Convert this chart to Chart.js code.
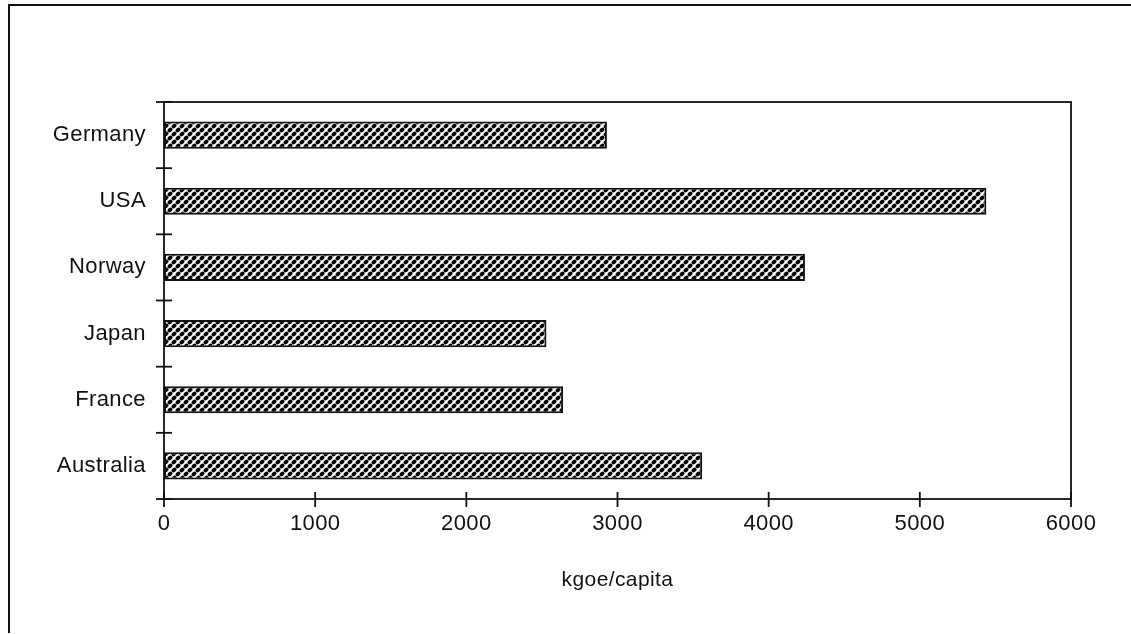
<!DOCTYPE html>
<html>
<head>
<meta charset="utf-8">
<script src="https://cdn.jsdelivr.net/npm/chart.js@4.4.1/dist/chart.umd.min.js"></script>
<style>
  html, body { margin: 0; padding: 0; background: #fff; }
  #wrap { position: relative; width: 1131px; height: 634px; }
</style>
</head>
<body>
<div id="wrap"><canvas id="c" width="1131" height="634"></canvas></div>
<script>
// Energy use per capita by country
const countries = ['Germany', 'USA', 'Norway', 'Japan', 'France', 'Australia'];
const kgoePerCapita = [2930, 5440, 4240, 2530, 2640, 3560];
const xTicks = [0, 1000, 2000, 3000, 4000, 5000, 6000];
const xTitle = 'kgoe/capita';

// Dotted halftone fill for the bars
function dotPattern() {
  const s = 8;
  const t = document.createElement('canvas');
  t.width = s; t.height = s;
  const g = t.getContext('2d');
  g.fillStyle = '#fff';
  g.fillRect(0, 0, s, s);
  g.fillStyle = '#000';
  const dot = (x, y) => {
    g.beginPath();
    g.ellipse(x, y, 2.7, 2.0, -0.7, 0, Math.PI * 2);
    g.fill();
  };
  const pts = [[2, 2], [6, 6]];
  pts.forEach(([x, y]) => {
    for (let dx = -s; dx <= s; dx += s)
      for (let dy = -s; dy <= s; dy += s) dot(x + dx, y + dy);
  });
  const ctx = document.getElementById('c').getContext('2d');
  return ctx.createPattern(t, 'repeat');
}

// Outer frame, plot box and crossing tick marks
const framePlugin = {
  id: 'frame',
  beforeDraw(chart) {
    chart.ctx.letterSpacing = '0.4px';
  },
  afterDraw(chart) {
    const { ctx, chartArea: a, scales } = chart;
    ctx.save();
    ctx.strokeStyle = '#111';
    ctx.lineWidth = 2;
    ctx.beginPath();
    ctx.moveTo(9, 633); ctx.lineTo(9, 5); ctx.lineTo(1131, 5);
    ctx.stroke();
    ctx.lineWidth = 1.8;
    ctx.strokeRect(a.left, a.top, a.right - a.left, a.bottom - a.top);
    // category boundary ticks on the value axis side
    const y = scales.y;
    const n = countries.length;
    for (let i = 0; i <= n; i++) {
      const py = y.getPixelForValue(i - 0.5);
      ctx.beginPath();
      ctx.moveTo(a.left - 8, py); ctx.lineTo(a.left + 8, py);
      ctx.stroke();
    }
    const x = scales.x;
    xTicks.forEach(v => {
      const px = x.getPixelForValue(v);
      ctx.beginPath();
      ctx.moveTo(px, a.bottom - 7); ctx.lineTo(px, a.bottom + 8);
      ctx.stroke();
    });
    ctx.restore();
  }
};

Chart.defaults.font.family = '"Liberation Sans", Arial, sans-serif';
Chart.defaults.color = '#111';

new Chart(document.getElementById('c'), {
  type: 'bar',
  data: {
    labels: countries,
    datasets: [{
      data: kgoePerCapita,
      backgroundColor: dotPattern(),
      borderColor: '#111',
      borderWidth: 2,
      borderSkipped: false,
      barPercentage: 0.41,
      categoryPercentage: 1
    }]
  },
  options: {
    indexAxis: 'y',
    responsive: false,
    animation: false,
    layout: { padding: { left: 0, right: 60, top: 102, bottom: 0 } },
    plugins: { legend: { display: false }, tooltip: { enabled: false } },
    scales: {
      x: {
        min: 0, max: 6000,
        afterBuildTicks(s) { s.ticks = xTicks.map(v => ({ value: v })); },
        afterFit(s) { s.height = 135; },
        grid: { display: false, drawTicks: false },
        border: { display: false },
        ticks: {
          font: { size: 22 }, padding: 12, color: '#111',
          callback: v => String(v)
        },
        title: {
          display: true, text: xTitle,
          font: { size: 21 }, color: '#111',
          padding: { top: 0, bottom: 41 }
        }
      },
      y: {
        offset: true,
        afterFit(s) { s.width = 164; },
        grid: { display: false, drawTicks: false },
        border: { display: false },
        ticks: { font: { size: 22 }, padding: 18, color: '#111' }
      }
    }
  },
  plugins: [framePlugin]
});
</script>
</body>
</html>
